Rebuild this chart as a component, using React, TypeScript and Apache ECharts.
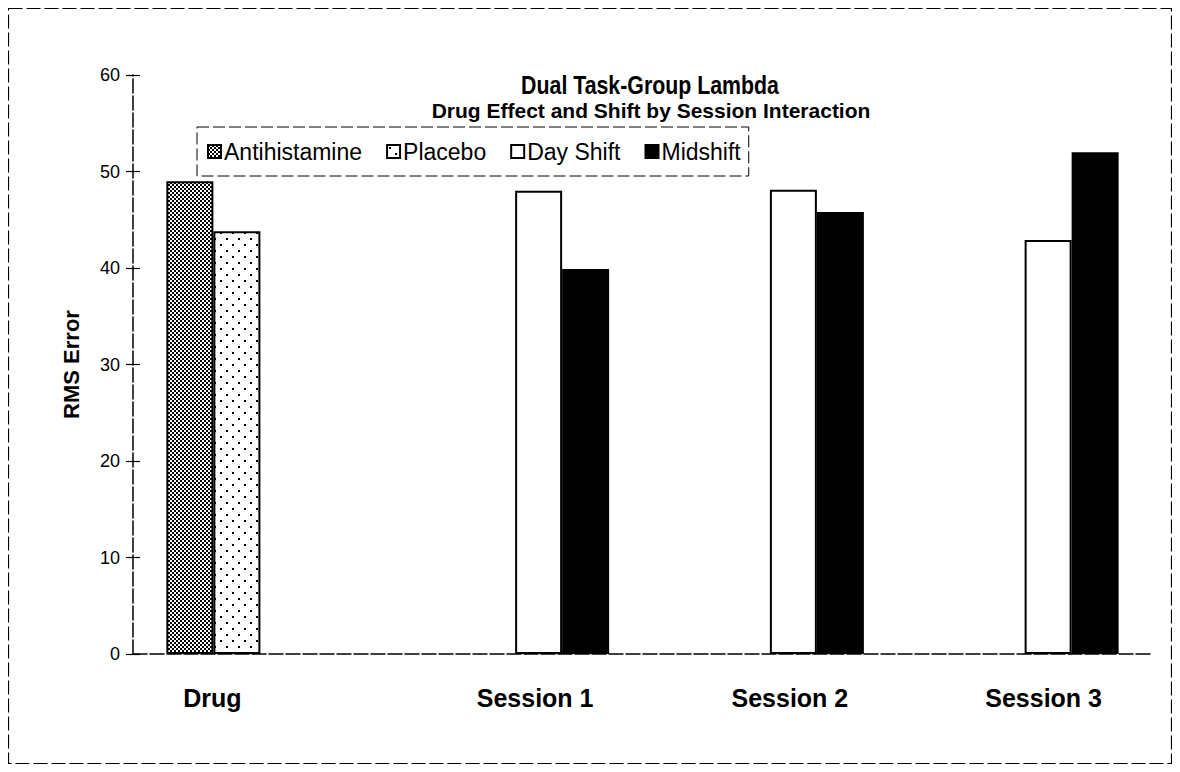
import React, { useEffect, useRef } from "react";
import * as echarts from "echarts";

const categories = ["Drug", "Session 1", "Session 2", "Session 3"];
const antihistamine = [49.0, null, null, null];
const placebo = [43.8, null, null, null];
const dayShift = [null, 48.0, 48.1, 42.9];
const midshift = [null, 39.9, 45.8, 52.0];
const seriesNames = ["Antihistamine", "Placebo", "Day Shift", "Midshift"];
const titleText = "Dual Task-Group Lambda";
const subtitleText = "Drug Effect and Shift by Session Interaction";
const yAxisName = "RMS Error";
const yMin = 0;
const yMax = 60;
const yInterval = 10;

const FONT = "'Liberation Sans', Arial, Helvetica, sans-serif";

function makePattern(size: number, dots: [number, number][], dot: number) {
  const c = document.createElement("canvas");
  c.width = size;
  c.height = size;
  const ctx = c.getContext("2d")!;
  ctx.fillStyle = "#ffffff";
  ctx.fillRect(0, 0, size, size);
  ctx.fillStyle = "#000000";
  dots.forEach(([x, y]) => ctx.fillRect(x, y, dot, dot));
  return { image: c, repeat: "repeat", imageWidth: size, imageHeight: size };
}

export default function App() {
  const ref = useRef<HTMLDivElement>(null);

  useEffect(() => {
    if (!ref.current) return;
    const chart = echarts.init(ref.current, undefined, { renderer: "svg" });

    const densePattern = makePattern(4, [[0, 0], [2, 2]], 2);
    const sparsePattern = makePattern(12, [[2, 2], [8, 8]], 2);

    const fills: any[] = [densePattern, sparsePattern, "#ffffff", "#000000"];
    const values = [antihistamine, placebo, dayShift, midshift];

    const labelPads = [
      [0, 96, 0, 0],
      [0, 0, 0, 40],
      [0, 0, 0, 40],
      [0, 0, 0, 38],
    ];

    const option: any = {
      animation: false,
      backgroundColor: "#ffffff",
      textStyle: { fontFamily: FONT, color: "#000" },
      graphic: [
        {
          type: "rect",
          shape: { x: 0.5, y: 0.5, width: 1163, height: 755 },
          style: { fill: "none", stroke: "#000", lineWidth: 1.2, lineDash: [14, 4] },
          silent: true,
          z: -1,
        },
        {
          type: "text",
          x: 642,
          y: 64,
          scaleX: 0.82,
          style: {
            text: titleText,
            font: `bold 26px ${FONT}`,
            fill: "#000",
            textAlign: "center",
            textVerticalAlign: "top",
          },
        },
        {
          type: "text",
          x: 643,
          y: 92,
          style: {
            text: subtitleText,
            font: `bold 21px ${FONT}`,
            fill: "#000",
            textAlign: "center",
            textVerticalAlign: "top",
          },
        },
      ],
      legend: {
        left: 189,
        top: 119,
        orient: "horizontal",
        data: seriesNames,
        padding: [13, 8, 13, 10],
        itemGap: 24,
        itemWidth: 13,
        itemHeight: 13,
        icon: "rect",
        borderColor: "#000",
        borderWidth: 1,
        borderType: [12, 4],
        backgroundColor: "#fff",
        selectedMode: false,
        textStyle: { fontSize: 23, fontFamily: FONT, color: "#000", padding: [0, 0, 0, -2] },
      },
      grid: { left: 125, right: 20, top: 67, bottom: 111, containLabel: false },
      xAxis: {
        type: "category",
        data: categories.map((c, i) => ({
          value: c,
          textStyle: { padding: labelPads[i] },
        })),
        axisLine: { show: true, lineStyle: { color: "#000", width: 1.5, type: [14, 3] } },
        axisTick: { show: false },
        axisLabel: {
          margin: 31,
          fontSize: 25,
          fontWeight: "bold",
          fontFamily: FONT,
          color: "#000",
          interval: 0,
        },
        splitLine: { show: false },
      },
      yAxis: [
        {
          type: "value",
          min: yMin,
          max: yMax,
          interval: yInterval,
          name: yAxisName,
          nameLocation: "middle",
          nameGap: 51,
          nameTextStyle: { fontSize: 22, fontWeight: "bold", fontFamily: FONT, color: "#000" },
          axisLine: { show: true, lineStyle: { color: "#000", width: 1.5, type: [14, 3] } },
          axisTick: { show: true, inside: false, length: 7, lineStyle: { color: "#000", width: 1.2 } },
          axisLabel: { fontSize: 18, fontFamily: FONT, color: "#000", margin: 13 },
          splitLine: { show: false },
        },
        {
          type: "value",
          min: yMin,
          max: yMax,
          interval: yInterval,
          position: "left",
          offset: 0,
          axisLine: { show: false },
          axisTick: { show: true, inside: true, length: 7, lineStyle: { color: "#000", width: 1.2 } },
          axisLabel: { show: false },
          splitLine: { show: false },
        },
      ],
      series: seriesNames.map((name, i) => ({
        name,
        type: "bar",
        data: values[i],
        barGap: "0%",
        barCategoryGap: "26.2%",
        itemStyle: { color: fills[i], borderColor: "#000", borderWidth: 2 },
      })),
    };

    chart.setOption(option);
    return () => chart.dispose();
  }, []);

  return <div ref={ref} style={{ width: 1164, height: 757 }} />;
}
